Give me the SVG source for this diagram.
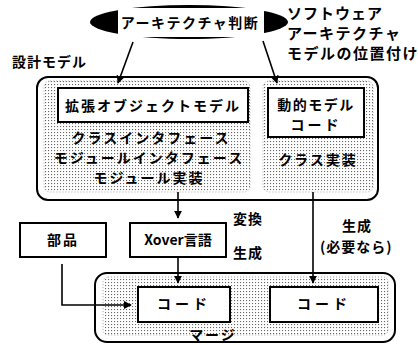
<svg xmlns="http://www.w3.org/2000/svg" width="418" height="345" viewBox="0 0 418 345">
<defs>
<pattern id="dots" width="3" height="3" patternUnits="userSpaceOnUse">
<rect x="0" y="0" width="1.1" height="1.1" fill="#666"/>
</pattern>
<marker id="ah" viewBox="0 0 10 10" refX="9" refY="5" markerWidth="8" markerHeight="8" markerUnits="userSpaceOnUse" orient="auto">
<path d="M0,0 L10,5 L0,10 z" fill="#000"/>
</marker>
</defs>
<style>
text{font-family:"Noto Sans CJK JP","Noto Sans",sans-serif;font-size:14px;font-weight:bold;fill:#000}
.c{text-anchor:middle}
.n{font-size:15px}
.outer{fill:#fff;stroke:#000;stroke-width:2}
.dot{fill:url(#dots);stroke:#aaa;stroke-width:1;stroke-dasharray:1 2}
.box{fill:#fff;stroke:#000;stroke-width:2}
.ln{fill:none;stroke:#000;stroke-width:1.6}
</style>
<rect width="418" height="345" fill="#fff"/>

<g id="judgement">
<ellipse cx="189" cy="22" rx="99" ry="17" fill="#000"/>
<rect x="118" y="8" width="146" height="29" rx="3" fill="#fff"/>
<text class="c" x="190" y="28" letter-spacing="1.5">アーキテクチャ判断</text>
</g>
<g id="note">
<text class="n" x="287" y="19" letter-spacing="1">ソフトウェア</text>
<text class="n" x="287" y="39" letter-spacing="1.5">アーキテクチャ</text>
<text class="n" x="287" y="59" letter-spacing="1.5">モデルの位置付け</text>
</g>

<g id="design-model">
<text x="12" y="67" letter-spacing="1">設計モデル</text>
<rect class="outer" x="37" y="77" width="341" height="123" rx="11"/>
<rect class="dot" x="44" y="81" width="206" height="111" rx="6"/>
<rect class="dot" x="263" y="81" width="110" height="111" rx="6"/>
</g>
<g id="ext-object-model">
<rect class="box" x="58" y="88" width="190" height="34"/>
<text class="c" x="153" y="111" letter-spacing="2">拡張オブジェクトモデル</text>
</g>
<g id="dynamic-model">
<rect class="box" x="268" y="88" width="96" height="49"/>
<text class="c" x="316" y="110" letter-spacing="1.5">動的モデル</text>
<text class="c" x="316" y="130" letter-spacing="3">コード</text>
</g>
<g id="left-texts">
<text class="c" x="151" y="143" letter-spacing="2">クラスインタフェース</text>
<text class="c" x="149" y="163" letter-spacing="2">モジュールインタフェース</text>
<text class="c" x="149" y="183" letter-spacing="2">モジュール実装</text>
</g>
<g id="class-impl">
<text class="c" x="318" y="165" letter-spacing="2">クラス実装</text>
</g>

<g id="parts">
<rect class="box" x="20" y="223" width="86" height="34"/>
<text class="c" x="63" y="245" letter-spacing="2">部品</text>
</g>
<g id="xover">
<rect class="box" x="130" y="223" width="96" height="34"/>
<text class="c" x="178" y="245">Xover言語</text>
</g>
<g id="labels">
<text x="233" y="224" letter-spacing="1">変換</text>
<text x="233" y="258" letter-spacing="1">生成</text>
<text x="342" y="231" letter-spacing="1">生成</text>
<text x="320" y="252" letter-spacing="1">(必要なら)</text>
</g>

<g id="merge">
<rect class="outer" x="95" y="273" width="300" height="69" rx="12"/>
<rect class="dot" x="103" y="277" width="285" height="58" rx="5"/>
<text class="c" x="213" y="340" letter-spacing="2">マージ</text>
</g>
<g id="code1">
<rect class="box" x="138" y="287" width="92" height="35"/>
<text class="c" x="184" y="309" letter-spacing="4">コード</text>
</g>
<g id="code2">
<rect class="box" x="270" y="287" width="108" height="35"/>
<text class="c" x="324" y="309" letter-spacing="4">コード</text>
</g>

<g id="connectors">
<line class="ln" x1="133" y1="42" x2="118" y2="83" marker-end="url(#ah)"/>
<line class="ln" x1="263" y1="41" x2="277" y2="83" marker-end="url(#ah)"/>
<line class="ln" x1="178" y1="192" x2="178" y2="218" marker-end="url(#ah)"/>
<line class="ln" x1="178" y1="257" x2="178" y2="283" marker-end="url(#ah)"/>
<line class="ln" x1="313" y1="192" x2="313" y2="283" marker-end="url(#ah)"/>
<polyline class="ln" points="62,264 62,305 131,305" marker-end="url(#ah)"/>
</g>
</svg>
